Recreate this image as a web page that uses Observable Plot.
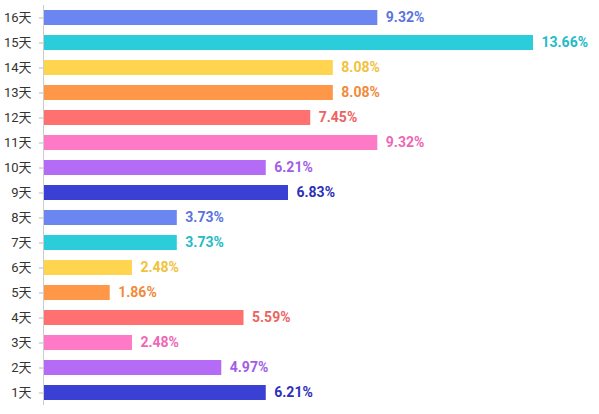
<!DOCTYPE html>
<html><head><meta charset="utf-8">
<script src="https://cdn.jsdelivr.net/npm/d3@7"></script>
<script src="https://cdn.jsdelivr.net/npm/@observablehq/plot@0.6"></script>
<style>body{margin:0;background:#fff}</style>
</head><body><div id="chart"></div>
<script>
const categories = ["16天","15天","14天","13天","12天","11天","10天","9天","8天","7天","6天","5天","4天","3天","2天","1天"];
const values = [9.32,13.66,8.08,8.08,7.45,9.32,6.21,6.83,3.73,3.73,2.48,1.86,5.59,2.48,4.97,6.21];
const palette = ["#6b86f0","#2acdd9","#ffd54f","#ff9749","#ff7171","#ff7ac6","#b46cf7","#3a40d4"];
const labelPalette = ["#5a73df","#24bac8","#f2c23c","#f28a3a","#ee6262","#ee68b5","#a25ce6","#2c30b8"];

const data = categories.map((c,i)=>({cat:c, v:values[i], color:palette[i%8], lc:labelPalette[i%8]}));

const chart = Plot.plot({
  width:599, height:414,
  marginLeft:43, marginRight:0, marginTop:5, marginBottom:9,
  style:{fontFamily:"Roboto, 'Noto Sans CJK SC', sans-serif", fontSize:"13px", color:"#333"},
  x:{domain:[0,15.5], axis:null},
  y:{domain:categories, paddingInner:0.42, paddingOuter:0.21, label:null, tickSize:4, tickPadding:8},
  marks:[
    Plot.barX(data,{y:"cat", x:"v", fill:"color"}),
    Plot.text(data,{y:"cat", x:"v", text:d=>d.v.toFixed(2)+"%", fill:"lc", dx:8, textAnchor:"start", fontWeight:"bold", fontSize:14}),
    Plot.ruleX([0],{stroke:"#ccc"}),
    Plot.axisY({tickSize:4, tickPadding:8, stroke:"#bbb", fill:"#333", fontSize:13, label:null})
  ]
});
document.getElementById("chart").appendChild(chart);
</script></body></html>
